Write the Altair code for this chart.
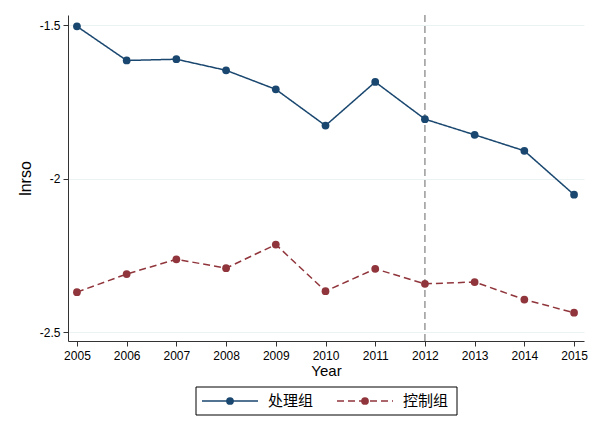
import altair as alt
import pandas as pd

years = list(range(2005, 2016))
treated = [-1.504, -1.615, -1.611, -1.647, -1.709, -1.827, -1.685, -1.806, -1.857, -1.909, -2.052]
control = [-2.369, -2.310, -2.262, -2.291, -2.214, -2.366, -2.293, -2.342, -2.336, -2.393, -2.436]
groups = ["处理组", "控制组"]
colors = ["#1a476f", "#90353b"]
dashes = [[1, 0], [7, 4]]
policy_year = [2012]
y_ticks = [-1.5, -2, -2.5]

df = pd.DataFrame({
    "Year": years * 2,
    "lnrso": treated + control,
    "group": [groups[0]] * len(years) + [groups[1]] * len(years),
})

xs = alt.Scale(domain=[2004.82, 2015.2], nice=False, zero=False)
ys = alt.Scale(domain=[-2.528, -1.467], nice=False, zero=False)
cscale = alt.Scale(domain=groups, range=colors)
dscale = alt.Scale(domain=groups, range=dashes)

x_axis = alt.Axis(values=years, format="d", title="Year", grid=False, labelFontSize=12,
                  titleFontSize=15, titleFontWeight="normal", titleFont="Liberation Sans",
                  labelFont="Liberation Sans", labelColor="#000", titleColor="#000",
                  domainColor="#333", tickColor="#333", tickSize=5, labelPadding=4, titlePadding=2)
y_axis = alt.Axis(values=y_ticks, labelExpr="'' + datum.value", title="lnrso", grid=True,
                  gridColor="#eaf2f3", gridWidth=1, labelFontSize=12, titleFontSize=16,
                  titleFontWeight="normal", titleFont="Liberation Sans", labelFont="Liberation Sans",
                  labelColor="#000", titleColor="#000", domainColor="#333", tickColor="#333",
                  tickSize=5, labelPadding=3, titlePadding=6)

base = alt.Chart(df)

lines = base.mark_line(strokeWidth=1.5).encode(
    x=alt.X("Year:Q", scale=xs, axis=x_axis),
    y=alt.Y("lnrso:Q", scale=ys, axis=y_axis),
    color=alt.Color("group:N", scale=cscale, legend=None),
    strokeDash=alt.StrokeDash("group:N", scale=dscale, legend=None),
)
points = base.mark_point(filled=True, size=60, opacity=1).encode(
    x=alt.X("Year:Q", scale=xs),
    y=alt.Y("lnrso:Q", scale=ys),
    color=alt.Color("group:N", scale=cscale, legend=None),
)
rule = alt.Chart(pd.DataFrame({"Year": policy_year})).mark_rule(
    color="#808080", strokeDash=[7, 4], strokeWidth=1.2
).encode(x=alt.X("Year:Q", scale=xs))

# manual Stata-style legend below the plot
one = pd.DataFrame({"a": [0]})
leg_layers = [
    alt.Chart(one).mark_rect(fill="white", stroke="#000", strokeWidth=1).encode(
        x=alt.value(128), x2=alt.value(389), y=alt.value(372), y2=alt.value(400))
]
for i, g in enumerate(groups):
    x0 = 134 + i * 135
    leg_layers.append(alt.Chart(one).mark_rule(
        color=colors[i], strokeWidth=1.5, strokeDash=dashes[i]).encode(
        x=alt.value(x0), x2=alt.value(x0 + 56), y=alt.value(386)))
    leg_layers.append(alt.Chart(one).mark_point(
        filled=True, size=60, opacity=1, color=colors[i]).encode(
        x=alt.value(x0 + 28), y=alt.value(386)))
    leg_layers.append(alt.Chart(one).mark_text(
        text=g, font="Noto Sans CJK SC", fontSize=15, align="left", baseline="middle",
        color="#000").encode(x=alt.value(x0 + 66), y=alt.value(386)))

chart = alt.layer(rule, lines, points, *leg_layers).properties(
    width=516, height=326,
    autosize=alt.AutoSizeParams(type="none"),
    padding={"left": 60, "top": 7, "right": 8, "bottom": 80},
    background="#ffffff",
).configure_view(stroke=None)

chart.save("out.html", embed_options={"renderer": "svg", "actions": False})
